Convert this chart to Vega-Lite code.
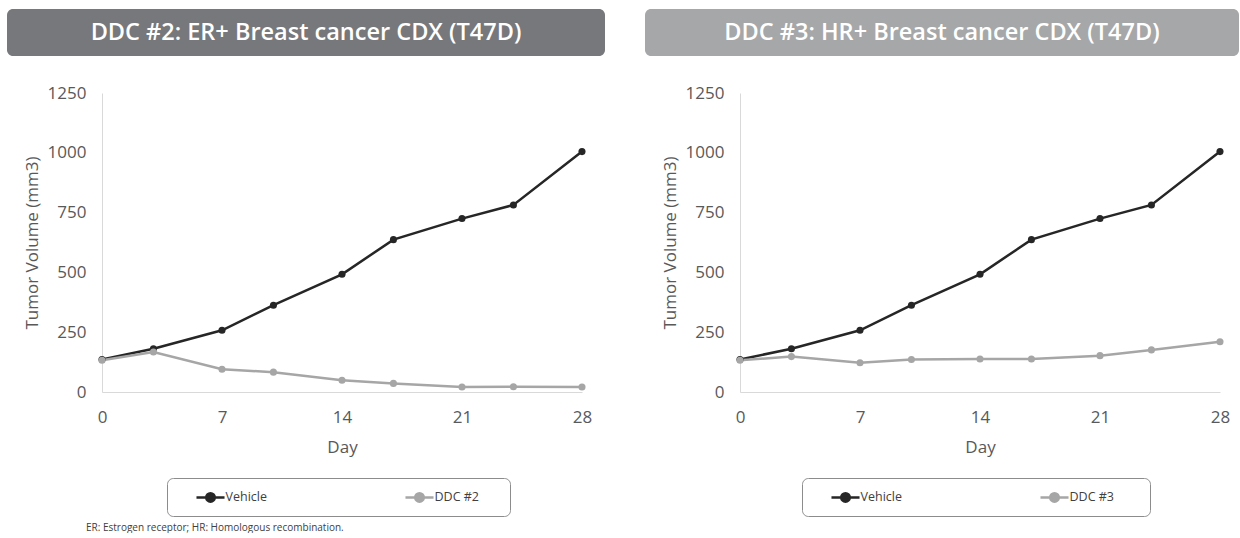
{
  "$schema": "https://vega.github.io/schema/vega-lite/v6.json",
  "padding": {"left": 7, "top": 9, "right": 0, "bottom": 0},
  "background": "white",
  "config": {
    "font": "Open Sans",
    "view": {"stroke": null},
    "axis": {
      "grid": false, "ticks": false, "domainColor": "#d9d9d9", "domainWidth": 1, "labelFlush": false,
      "labelColor": "#595959", "titleColor": "#595959", "labelFontSize": 17, "titleFontSize": 17,
      "titleFontWeight": "normal", "labelFont": "Open Sans", "titleFont": "Open Sans", "format": "d"
    },
    "legend": {
      "titleOrient": "right", "titlePadding": 22, "titleFontSize": 1,
      "orient": "none", "direction": "horizontal",
      "strokeColor": "#8c8c8c", "cornerRadius": 6, "padding": 9, "labelFontSize": 12.5, "labelColor": "#404040",
      "labelFont": "Open Sans",
      "symbolType": "M-1.65,0H1.65M-0.5,0A0.5,0.5,0,1,1,0.5,0A0.5,0.5,0,1,1,-0.5,0Z",
      "symbolSize": 289, "symbolStrokeWidth": 2.5, "labelOffset": 5, "columnPadding": 118, "symbolOffset": 24.5
    }
  },
  "resolve": {"scale": {"color": "independent"}, "legend": {"color": "independent"}},
  "datasets": {
    "left": [
      {"day": 0, "volume": 136, "group": "Vehicle"},
      {"day": 3, "volume": 181, "group": "Vehicle"},
      {"day": 7, "volume": 258, "group": "Vehicle"},
      {"day": 10, "volume": 363, "group": "Vehicle"},
      {"day": 14, "volume": 492, "group": "Vehicle"},
      {"day": 17, "volume": 637, "group": "Vehicle"},
      {"day": 21, "volume": 725, "group": "Vehicle"},
      {"day": 24, "volume": 782, "group": "Vehicle"},
      {"day": 28, "volume": 1005, "group": "Vehicle"},
      {"day": 0, "volume": 133, "group": "DDC #2"},
      {"day": 3, "volume": 167, "group": "DDC #2"},
      {"day": 7, "volume": 95, "group": "DDC #2"},
      {"day": 10, "volume": 83, "group": "DDC #2"},
      {"day": 14, "volume": 49, "group": "DDC #2"},
      {"day": 17, "volume": 36, "group": "DDC #2"},
      {"day": 21, "volume": 21, "group": "DDC #2"},
      {"day": 24, "volume": 22, "group": "DDC #2"},
      {"day": 28, "volume": 21, "group": "DDC #2"}
    ],
    "right": [
      {"day": 0, "volume": 136, "group": "Vehicle"},
      {"day": 3, "volume": 181, "group": "Vehicle"},
      {"day": 7, "volume": 258, "group": "Vehicle"},
      {"day": 10, "volume": 363, "group": "Vehicle"},
      {"day": 14, "volume": 492, "group": "Vehicle"},
      {"day": 17, "volume": 637, "group": "Vehicle"},
      {"day": 21, "volume": 725, "group": "Vehicle"},
      {"day": 24, "volume": 782, "group": "Vehicle"},
      {"day": 28, "volume": 1005, "group": "Vehicle"},
      {"day": 0, "volume": 133, "group": "DDC #3"},
      {"day": 3, "volume": 148, "group": "DDC #3"},
      {"day": 7, "volume": 122, "group": "DDC #3"},
      {"day": 10, "volume": 136, "group": "DDC #3"},
      {"day": 14, "volume": 138, "group": "DDC #3"},
      {"day": 17, "volume": 138, "group": "DDC #3"},
      {"day": 21, "volume": 152, "group": "DDC #3"},
      {"day": 24, "volume": 176, "group": "DDC #3"},
      {"day": 28, "volume": 210, "group": "DDC #3"}
    ]
  },
  "title": {
    "text": "ER: Estrogen receptor; HR: Homologous recombination.",
    "orient": "bottom", "anchor": "start", "fontSize": 10, "fontWeight": "normal",
    "color": "#404040", "dx": 79, "offset": 6, "font": "Open Sans"
  },
  "columns": 2,
  "spacing": {"row": 28, "column": 40},
  "concat": [
    {
      "width": 598, "height": 47,
      "view": {"fill": "#77787b", "stroke": null, "cornerRadius": 6},
      "data": {"values": [{"label": "DDC #2: ER+ Breast cancer CDX (T47D)"}]},
      "mark": {"type": "text", "color": "white", "fontSize": 23.5, "fontWeight": 600, "font": "Open Sans", "baseline": "middle", "align": "center"},
      "encoding": {"text": {"field": "label"}}
    },
    {
      "width": 594, "height": 47,
      "view": {"fill": "#a6a7a9", "stroke": null, "cornerRadius": 6},
      "data": {"values": [{"label": "DDC #3: HR+ Breast cancer CDX (T47D)"}]},
      "mark": {"type": "text", "color": "white", "fontSize": 23.5, "fontWeight": 600, "font": "Open Sans", "baseline": "middle", "align": "center"},
      "encoding": {"text": {"field": "label"}}
    },
    {
      "width": 575, "height": 299,
      "data": {"name": "left"},
      "mark": {"type": "line", "strokeWidth": 2.5, "point": {"filled": true, "size": 50}},
      "encoding": {
        "x": {"field": "day", "type": "quantitative", "scale": {"domain": [0, 28], "range": [95, 575], "nice": false},
          "axis": {"values": [0, 7, 14, 21, 28], "title": "Day", "labelPadding": 17, "titlePadding": 14}},
        "y": {"field": "volume", "type": "quantitative", "scale": {"domain": [0, 1250], "nice": false},
          "axis": {"values": [0, 250, 500, 750, 1000, 1250], "title": "Tumor Volume (mm3)", "labelPadding": 16, "titlePadding": 6, "offset": -95}},
        "color": {"field": "group", "type": "nominal",
          "scale": {"domain": ["Vehicle", "DDC #2"], "range": ["#262626", "#a6a6a6"]},
          "legend": {"title": " ", "legendX": 160, "legendY": 385}}
      }
    },
    {
      "width": 575, "height": 299,
      "data": {"name": "right"},
      "mark": {"type": "line", "strokeWidth": 2.5, "point": {"filled": true, "size": 50}},
      "encoding": {
        "x": {"field": "day", "type": "quantitative", "scale": {"domain": [0, 28], "range": [95, 575], "nice": false},
          "axis": {"values": [0, 7, 14, 21, 28], "title": "Day", "labelPadding": 17, "titlePadding": 14}},
        "y": {"field": "volume", "type": "quantitative", "scale": {"domain": [0, 1250], "nice": false},
          "axis": {"values": [0, 250, 500, 750, 1000, 1250], "title": "Tumor Volume (mm3)", "labelPadding": 16, "titlePadding": 6, "offset": -95}},
        "color": {"field": "group", "type": "nominal",
          "scale": {"domain": ["Vehicle", "DDC #3"], "range": ["#262626", "#a6a6a6"]},
          "legend": {"title": " ", "legendX": 157, "legendY": 385, "titlePadding": 27}}
      }
    }
  ]
}
